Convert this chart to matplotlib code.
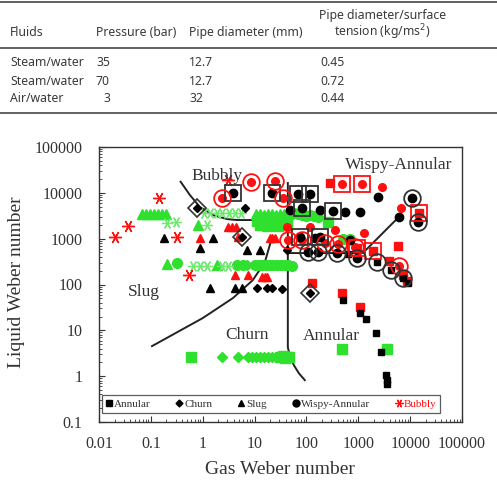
import matplotlib
matplotlib.use('Agg')
import matplotlib.pyplot as plt
from matplotlib.lines import Line2D
from matplotlib.ticker import LogLocator, NullFormatter

# ---------------- table data ----------------
table_headers = ["Fluids", "Pressure (bar)", "Pipe diameter (mm)", "Pipe diameter/surface", "tension (kg/ms$^2$)"]
table_fluids = ["Steam/water", "Steam/water", "Air/water"]
table_pressure = ["35", "70", "3"]
table_diameter = ["12.7", "12.7", "32"]
table_ratio = ["0.45", "0.72", "0.44"]

# ---------------- axis ticks ----------------
xtick_vals = [0.01, 0.1, 1, 10, 100, 1000, 10000, 100000]
xtick_labels = ["0.01", "0.1", "1", "10", "100", "1000", "10000", "100000"]
ytick_vals = [0.1, 1, 10, 100, 1000, 10000, 100000]
ytick_labels = ["0.1", "1", "10", "100", "1000", "10000", "100000"]

# ---------------- black series (steam/water 35 bar) ----------------
blk_annular_x = [503, 1069, 1396, 2175, 2714, 3388, 3540, 3540, 628, 8990, 2271, 4228, 7200]
blk_annular_y = [45.6, 23.8, 17.6, 8.69, 3.34, 1.05, 0.82, 0.67, 461, 107, 308, 206, 138]
blk_churn_x = [0.77, 6.5, 5.7, 11.1, 17.3, 21.5, 33.6, 116, 41.9]
blk_churn_y = [4660, 4660, 1080, 83, 83, 83, 79, 65, 564]
blk_slug_x = [0.18, 1.57, 0.88, 7.1, 12.6, 1.38, 4.17, 5.69]
blk_slug_y = [1030, 1030, 624, 564, 564, 83, 83, 83]
blk_wispy_x = [3.82, 21.5, 68, 116, 81.5, 323, 47.9, 181, 550, 1069, 2375, 6026,
               74.6, 181, 145, 686, 106, 166, 385, 936, 10740, 14000]
blk_wispy_y = [9900, 9900, 9420, 9420, 4660, 4000, 4210, 4210, 3810, 3810, 8090, 2960,
               1080, 1080, 1030, 931, 510, 510, 485, 377, 7700, 2300]

# ---------------- red series (steam/water 70 bar) ----------------
red_annular_x = [282, 127, 481, 1069, 5768, 3873, 7200, 8590, 1903, 936, 14650]
red_annular_y = [16370, 107, 65, 32, 689, 324, 160, 119, 536, 624, 3620]
red_slug_x = [3.06, 3.65, 4.36, 0.88, 4.76, 19.7, 21.5, 24.6, 4.17, 7.43, 13.8, 15.8, 17.3]
red_slug_y = [1790, 1790, 1790, 1030, 1080, 1030, 1030, 1030, 160, 160, 145, 145, 145]
red_wispy_x = [116, 352, 1276, 2838, 6590, 41.9, 481, 1167, 8.48, 24.6, 2.34, 35.1,
               43.8, 81.5, 226, 403, 857, 6026]
red_wispy_y = [1790, 1540, 1320, 13390, 4660, 1790, 15570, 15570, 17200, 18100, 7700, 7700,
               931, 931, 801, 762, 656, 252]
red_bubbly_x = [0.0203, 0.0362, 0.143, 0.318, 0.542, 3.06]
red_bubbly_y = [1080, 1880, 7700, 1080, 160, 19050]

# ---------------- green series (air/water 3 bar) ----------------
grn_annular_x = [0.59, 41.9, 481, 3540, 258, 30.7, 35.1, 38.4, 46,
                 11, 14, 18, 23, 29, 36, 43, 13, 17, 22, 28, 35, 42]
grn_annular_y = [2.6, 2.6, 3.9, 3.9, 2300, 2.6, 2.7, 2.5, 2.6,
                 2450, 2400, 2500, 2400, 2450, 2350, 2400, 1950, 1900, 1950, 1900, 2000, 1950]
grn_churn_x = [2.34, 4.76, 7.43, 9.0, 10.7, 12.6, 14.9, 17.8, 21.5, 25.7, 7.1]
grn_churn_y = [2.6, 2.6, 2.6, 2.6, 2.6, 2.6, 2.6, 2.6, 2.6, 2.6, 270]
grn_slug_x = [0.0675, 0.08, 0.096, 0.115, 0.137, 0.164, 0.195, 0.81, 0.204, 1.88,
              10.7, 12.6, 14.9, 17.8, 21.5, 25.7, 30.7, 36.6, 43]
grn_slug_y = [3440, 3500, 3440, 3500, 3440, 3500, 3440, 1980, 279, 270,
              3400, 3450, 3350, 3450, 3400, 3350, 3450, 3400, 3300]
grn_wispy_x = [0.318, 4.56, 5.9, 10, 12, 14, 16.5, 19.5, 23, 27, 32, 38, 45, 52,
               47.9, 57, 68, 81, 97, 116, 138, 166, 503, 686]
grn_wispy_y = [293, 270, 270, 265, 265, 262, 268, 265, 262, 268, 265, 262, 260, 250,
               3270, 3600, 3440, 3270, 3110, 3270, 3110, 2960, 980, 980]
grn_bubbly_x = [1.05, 1.4, 1.85, 2.4, 3.2, 4.2, 5.5, 0.204, 0.305, 1.2, 0.65, 0.88, 1.2, 2.34, 3.06]
grn_bubbly_y = [3620, 3620, 3620, 3620, 3620, 3620, 3620, 2190, 2300, 1980, 252, 252, 252, 252, 252]

# ---------------- hollow (predicted) overlays ----------------
blk_hsq_x = [3.82, 21.5, 68, 116, 81.5, 323, 74.6, 181]
blk_hsq_y = [9900, 9900, 9420, 9420, 4660, 4000, 1080, 1080]
red_hci_x = [8.48, 24.6, 2.34, 35.1, 43.8, 81.5, 226, 403, 857, 6026]
red_hci_y = [17200, 18100, 7700, 7700, 931, 931, 801, 762, 656, 252]
red_hsq_x = [481, 1167, 14650, 1903, 936]
red_hsq_y = [15570, 15570, 3620, 536, 624]
blk_hci_x = [106, 166, 385, 936, 2271, 4228, 7200, 10740, 14000]
blk_hci_y = [510, 510, 485, 377, 308, 206, 138, 7700, 2300]
blk_hdi_x = [0.77, 5.7, 116]
blk_hdi_y = [4660, 1080, 65]

# ---------------- regime boundary curves ----------------
bubbly_bnd_x = [0.375, 0.566, 0.883, 1.57, 2.93, 4.56, 41.9]
bubbly_bnd_y = [17470, 8960, 4900, 3270, 2680, 2550, 2550]
annular_bnd_x = [43.8, 43.8, 47.9, 57.2, 71.4, 93.1]
annular_bnd_y = [16400, 4.3, 2.73, 1.74, 1.16, 0.818]
wispy_bnd_x = [43.8, 1222, 6026]
wispy_bnd_y = [485, 485, 2960]
slug_bnd_x = [0.105, 1.0, 3.82, 9.27, 15.8, 21.5]
slug_bnd_y = [4.52, 18.5, 50.5, 125, 308, 1030]

BLACK = "#000000"
RED = "#ff1010"
GREEN = "#2fe02f"
LGREEN = "#6ee86e"
ASTER = (6, 2, 90)
serif = ["Liberation Serif", "DejaVu Serif"]

fig = plt.figure(figsize=(4.97, 4.82), dpi=100)

# ---------------- table ----------------
tcol = "#3a3a3a"
tfont = dict(family="Noto Sans", fontsize=8.8, color=tcol)
W, H = 497.0, 482.0
for yy in (2, 48, 113):
    fig.add_artist(Line2D([0, 1], [1 - yy / H, 1 - yy / H], color="#555555", lw=1.3))
fig.text(10 / W, 1 - 36 / H, table_headers[0], va="baseline", ha="left", **tfont)
fig.text(96 / W, 1 - 36 / H, table_headers[1], va="baseline", ha="left", **tfont)
fig.text(189 / W, 1 - 36 / H, table_headers[2], va="baseline", ha="left", **tfont)
fig.text(383 / W, 1 - 19 / H, table_headers[3], va="baseline", ha="center", **tfont)
fig.text(382 / W, 1 - 36 / H, table_headers[4], va="baseline", ha="center", **tfont)
row_y = [63, 81, 98]
for i in range(3):
    fig.text(10 / W, 1 - row_y[i] / H, table_fluids[i], va="center", ha="left", **tfont)
    fig.text(110 / W, 1 - row_y[i] / H, table_pressure[i], va="center", ha="right", **tfont)
    fig.text(189 / W, 1 - row_y[i] / H, table_diameter[i], va="center", ha="left", **tfont)
    fig.text(320 / W, 1 - row_y[i] / H, table_ratio[i], va="center", ha="left", **tfont)

# ---------------- chart ----------------
ax = fig.add_axes([99 / W, 1 - 422 / H, 363 / W, 275 / H])
ax.set_xscale("log")
ax.set_yscale("log")
ax.set_xlim(0.01, 1e5)
ax.set_ylim(0.1, 1e5)

# boundaries
for bx, by in [(bubbly_bnd_x, bubbly_bnd_y), (annular_bnd_x, annular_bnd_y),
               (wispy_bnd_x, wispy_bnd_y), (slug_bnd_x, slug_bnd_y)]:
    ax.plot(bx, by, color="#222222", lw=1.4, zorder=2)

ms = 5.5
def pts(x, y, c, m, s=ms, z=3, **kw):
    ax.plot(x, y, ls="none", marker=m, color=c, ms=s, mec=c, zorder=z, **kw)

# green
pts(grn_annular_x, grn_annular_y, GREEN, "s", s=6.5)
pts(grn_churn_x, grn_churn_y, GREEN, "D", s=5)
pts(grn_slug_x, grn_slug_y, GREEN, "^", s=7)
pts(grn_wispy_x, grn_wispy_y, GREEN, "o", s=7)
ax.plot(grn_bubbly_x, grn_bubbly_y, ls="none", marker=ASTER, ms=8, mec=LGREEN, mew=0.9, zorder=3)
# red
pts(red_annular_x, red_annular_y, RED, "s", s=5.5)
pts(red_slug_x, red_slug_y, RED, "^", s=6)
pts(red_wispy_x, red_wispy_y, RED, "o", s=5.5)
ax.plot(red_bubbly_x, red_bubbly_y, ls="none", marker=ASTER, ms=9, mec=RED, mew=1.0, zorder=3)
# black
pts(blk_annular_x, blk_annular_y, BLACK, "s", s=5)
pts(blk_churn_x, blk_churn_y, BLACK, "D", s=4.5)
pts(blk_slug_x, blk_slug_y, BLACK, "^", s=6)
pts(blk_wispy_x, blk_wispy_y, BLACK, "o", s=6)
# hollow overlays
ax.plot(blk_hsq_x, blk_hsq_y, ls="none", marker="s", ms=11, mfc="none", mec="#333333", mew=1.3, zorder=4)
ax.plot(red_hsq_x, red_hsq_y, ls="none", marker="s", ms=11, mfc="none", mec=RED, mew=1.3, zorder=4)
ax.plot(red_hci_x, red_hci_y, ls="none", marker="o", ms=12, mfc="none", mec=RED, mew=1.3, zorder=4)
ax.plot(blk_hci_x, blk_hci_y, ls="none", marker="o", ms=12, mfc="none", mec="#333333", mew=1.3, zorder=4)
ax.plot(blk_hdi_x, blk_hdi_y, ls="none", marker="D", ms=9, mfc="none", mec="#333333", mew=1.2, zorder=4)

# region labels
lab = dict(family=serif, fontsize=12.5, color="#333333", ha="center", va="center", zorder=6)
ax.text(1.9, 23300, "Bubbly", **lab)
ax.text(6000, 40500, "Wispy-Annular", **lab)
ax.text(0.072, 68, "Slug", **lab)
ax.text(7.0, 7.9, "Churn", **lab)
ax.text(308, 7.5, "Annular", **lab)

# ticks
ax.set_xticks(xtick_vals, labels=xtick_labels)
ax.set_yticks(ytick_vals, labels=ytick_labels)
ax.xaxis.set_minor_locator(LogLocator(base=10, subs=range(2, 10), numticks=20))
ax.yaxis.set_minor_locator(LogLocator(base=10, subs=range(2, 10), numticks=20))
ax.xaxis.set_minor_formatter(NullFormatter())
ax.yaxis.set_minor_formatter(NullFormatter())
ax.tick_params(which="major", direction="in", length=4, width=0.8, color="#333333")
ax.tick_params(which="minor", direction="in", length=2, width=0.6, color="#333333")
ax.tick_params(axis="x", which="major", pad=10)
ax.tick_params(axis="y", which="major", pad=12)
for t in ax.get_xticklabels() + ax.get_yticklabels():
    t.set_fontfamily(serif)
    t.set_fontsize(11.5)
    t.set_color("#333333")
for s in ax.spines.values():
    s.set_color("#333333")
    s.set_linewidth(1.0)

fig.text(17 / W, 1 - 282 / H, "Liquid Weber number", rotation=90, ha="center", va="center",
         family=serif, fontsize=14, color="#333333")
fig.text(280 / W, 1 - 469 / H, "Gas Weber number", ha="center", va="center",
         family=serif, fontsize=14, color="#333333")

# legend
handles = [
    Line2D([], [], ls="none", marker="s", color=BLACK, ms=4.5),
    Line2D([], [], ls="none", marker="D", color=BLACK, ms=3.5),
    Line2D([], [], ls="none", marker="^", color=BLACK, ms=5),
    Line2D([], [], ls="none", marker="o", color=BLACK, ms=5),
    Line2D([], [], ls="none", marker=ASTER, mec=RED, ms=6, mew=0.9),
]
names = ["Annular", "Churn", "Slug", "Wispy-Annular", "Bubbly"]
leg = ax.legend(handles, names, ncol=5, loc="center", bbox_to_anchor=(0.474, 0.065),
                prop={"family": serif, "size": 8}, frameon=True, fancybox=False,
                edgecolor="#333333", handlelength=0.6, handletextpad=0.15,
                columnspacing=2.3, borderpad=0.35)
leg.get_frame().set_linewidth(0.9)
for t in leg.get_texts():
    t.set_color("#333333")
leg.get_texts()[-1].set_color(RED)

fig.savefig("out.png", dpi=100)
